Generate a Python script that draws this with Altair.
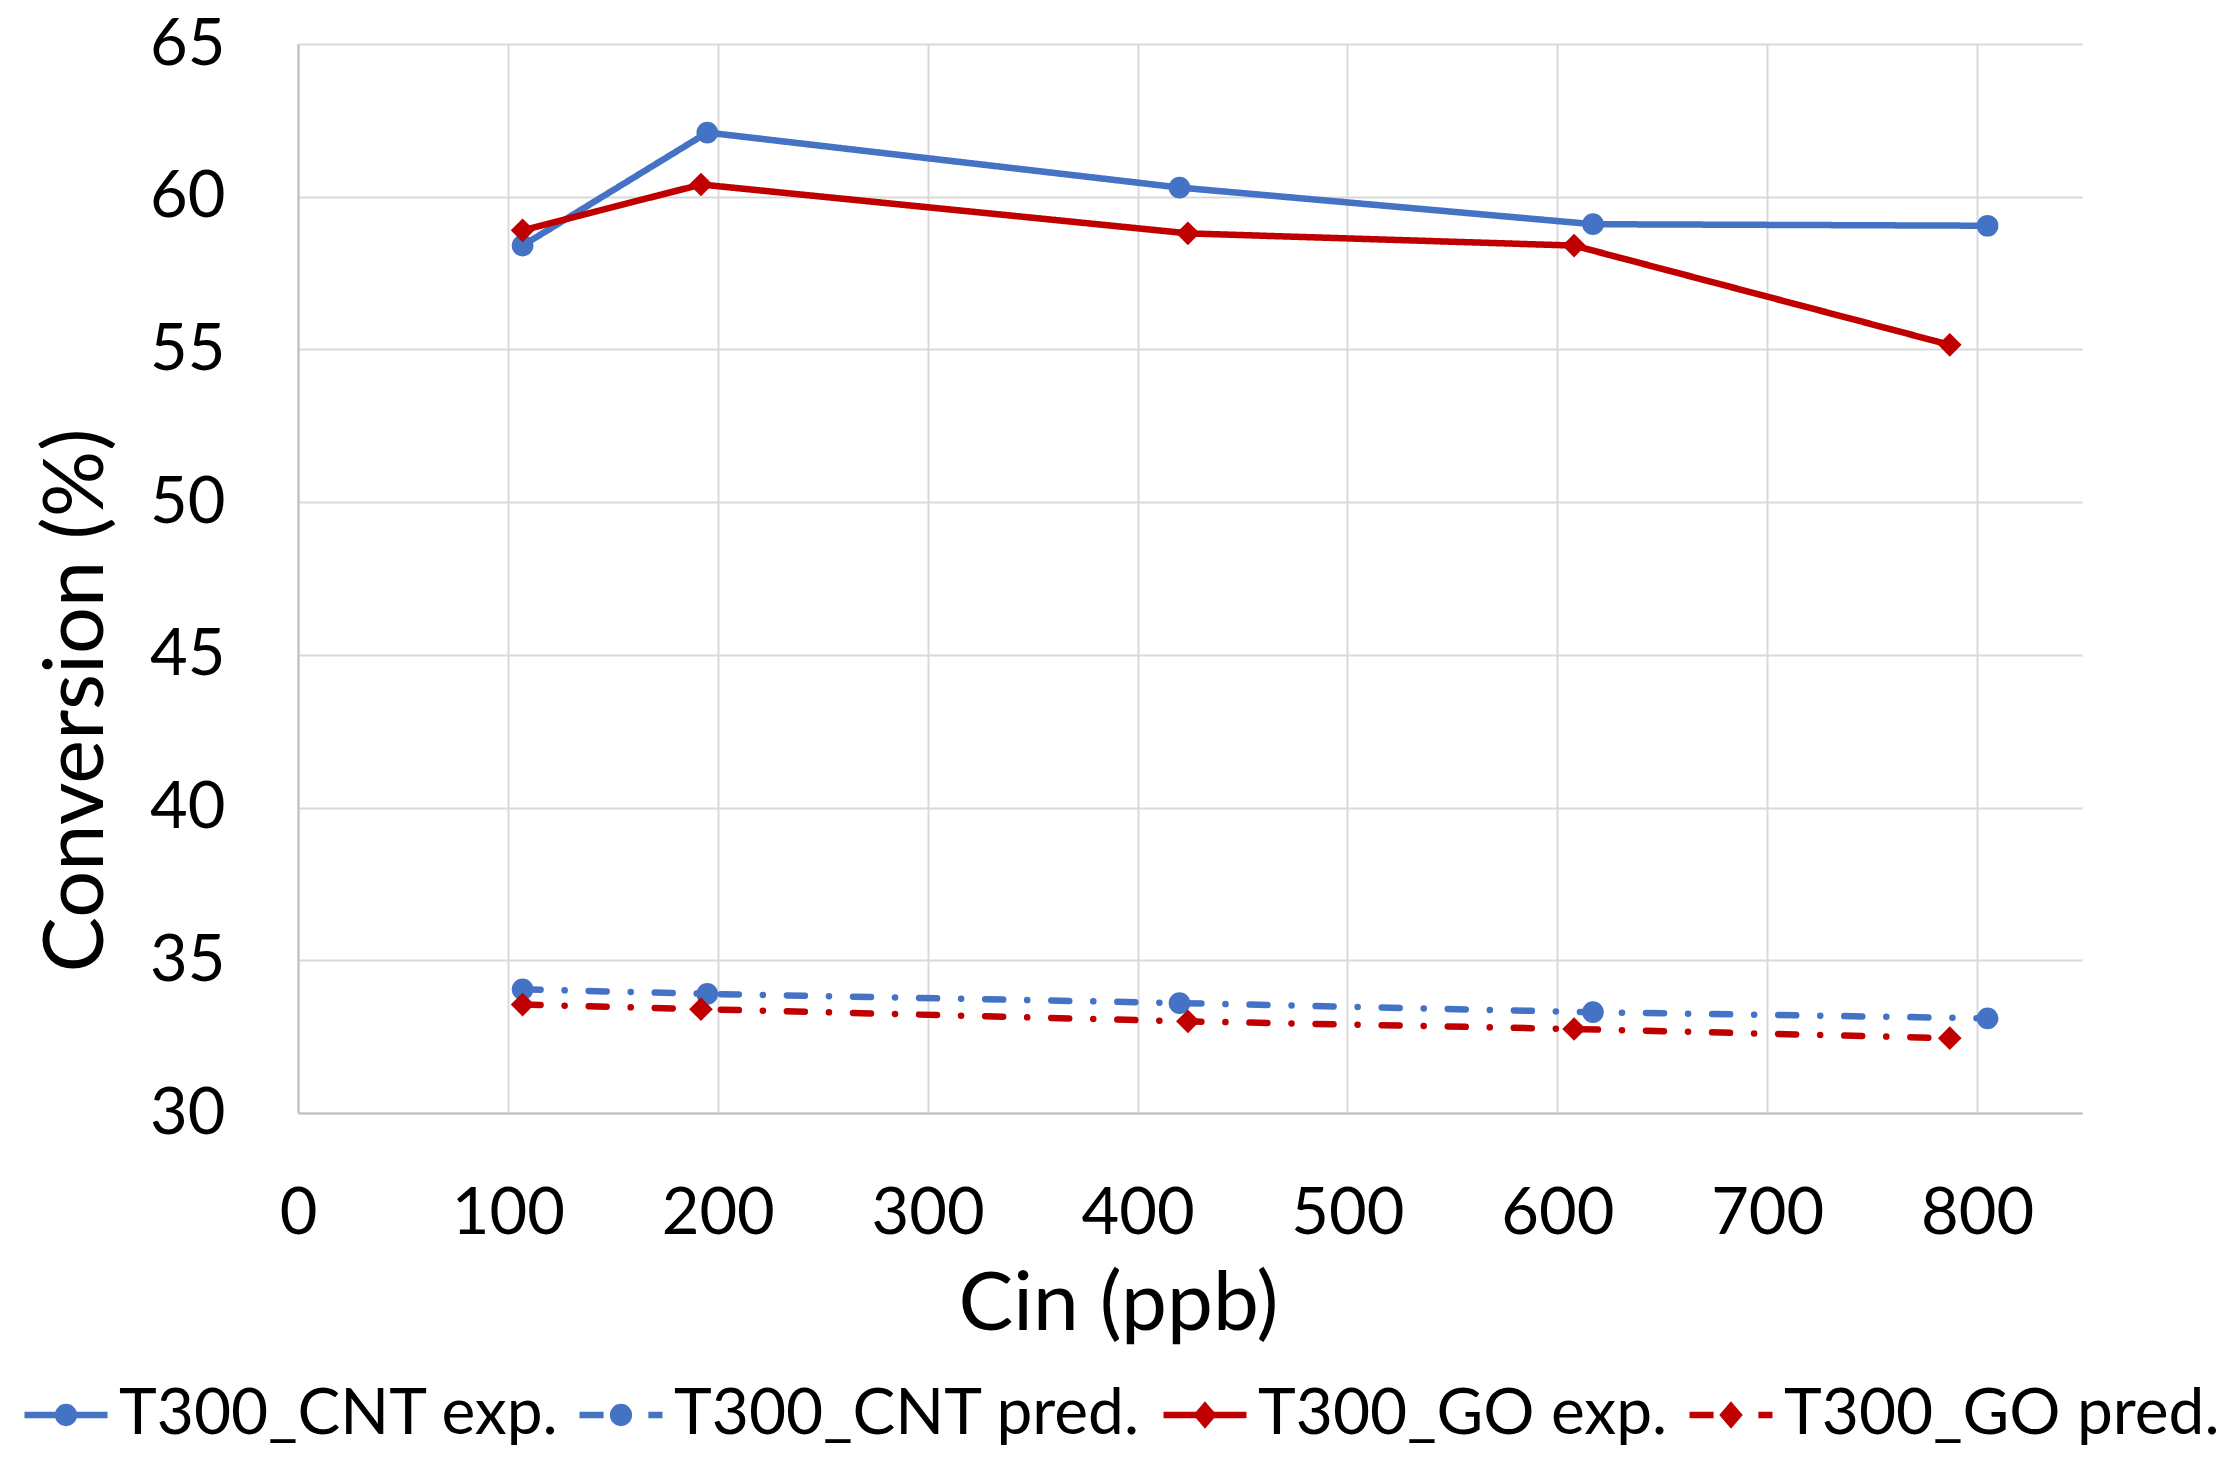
import altair as alt
import pandas as pd

# series
SERIES = ["T300_CNT exp.", "T300_CNT pred.", "T300_GO exp.", "T300_GO pred."]
COLORS = ["#4472C4", "#4472C4", "#C00000", "#C00000"]
MARKERS = ["circle", "circle", "diamond", "diamond"]

cnt_cin = [107, 195, 420, 617, 805]
go_cin = [107, 192, 424, 608, 787]
cnt_exp = [58.4, 62.1, 60.3, 59.1, 59.05]
cnt_pred = [34.05, 33.9, 33.6, 33.3, 33.1]
go_exp = [58.9, 60.4, 58.8, 58.4, 55.15]
go_pred = [33.55, 33.4, 33.0, 32.75, 32.45]

x_ticks = [0, 100, 200, 300, 400, 500, 600, 700, 800]
y_ticks = [30, 35, 40, 45, 50, 55, 60, 65]

FONT = "Lato"
LINE_W = 6.5

rows = []
for name, kind, xs, ys in [
    (SERIES[0], "exp", cnt_cin, cnt_exp),
    (SERIES[1], "pred", cnt_cin, cnt_pred),
    (SERIES[2], "exp", go_cin, go_exp),
    (SERIES[3], "pred", go_cin, go_pred),
]:
    for xv, yv in zip(xs, ys):
        rows.append({"series": name, "kind": kind, "cin": xv, "conv": yv})
df = pd.DataFrame(rows)

# legend symbols: line + marker as custom paths in [-1, 1]
CIRCLE = "M-0.19,0A0.19,0.19,0,1,0,0.19,0A0.19,0.19,0,1,0,-0.19,0Z"
DIAMOND = "M0,-0.21L0.18,0L0,0.21L-0.18,0Z"
SOLID = "M-1,0L1,0"
BROKEN = "M-1,0L-0.42,0M0.66,0L1,0"
SYMBOLS = [SOLID + CIRCLE, BROKEN + CIRCLE, SOLID + DIAMOND, BROKEN + DIAMOND]
LEGEND_X = [-277, 278, 862, 1388]

x_enc = alt.X(
    "cin:Q",
    title="Cin (ppb)",
    scale=alt.Scale(domain=[0, 850], nice=False),
    axis=alt.Axis(
        values=x_ticks, labelFont=FONT, labelFontSize=65, labelColor="black",
        labelPadding=69, labelBaseline="top", labelFlush=False, labelOverlap=False,
        ticks=False, tickSize=0, domain=True, domainColor="#BFBFBF", domainWidth=2,
        grid=True, gridColor="#D9D9D9", gridWidth=2,
        titleFont=FONT, titleFontSize=82, titleFontWeight="normal", titleColor="black",
        titleX=820, titleY=216, titleBaseline="alphabetic", titleAlign="center",
    ),
)
y_enc = alt.Y(
    "conv:Q",
    title="Conversion (%)",
    scale=alt.Scale(domain=[30, 65], nice=False, zero=False),
    axis=alt.Axis(
        values=y_ticks, labelFont=FONT, labelFontSize=65, labelColor="black",
        labelPadding=73, labelBaseline="middle", labelFlush=False, labelOverlap=False,
        ticks=False, tickSize=0, domain=True, domainColor="#BFBFBF", domainWidth=2,
        grid=True, gridColor="#D9D9D9", gridWidth=2,
        titleFont=FONT, titleFontSize=83, titleFontWeight="normal", titleColor="black",
        titleAngle=270, titleX=-196, titleY=656, titleBaseline="alphabetic", titleAlign="center",
    ),
)

lines = (
    alt.Chart(df)
    .mark_line(strokeWidth=LINE_W, strokeCap="round", strokeJoin="round")
    .encode(
        x=x_enc,
        y=y_enc,
        stroke=alt.Stroke("series:N", scale=alt.Scale(domain=SERIES, range=COLORS), legend=None),
        strokeDash=alt.StrokeDash(
            "kind:N",
            scale=alt.Scale(domain=["exp", "pred"], range=[[1, 0], [18, 24, 0.1, 24]]),
            legend=None,
        ),
    )
)


def marker_layer(i):
    name = SERIES[i]
    return (
        alt.Chart(df[df["series"] == name])
        .mark_point(
            filled=True, opacity=1, shape=MARKERS[i], strokeWidth=LINE_W,
            size=470 if MARKERS[i] == "circle" else 560,
        )
        .encode(
            x="cin:Q",
            y="conv:Q",
            color=alt.Color(
                "series:N",
                scale=alt.Scale(domain=[name], range=[COLORS[i]]),
                legend=alt.Legend(
                    orient="none", legendX=LEGEND_X[i], legendY=1326, direction="horizontal",
                    title=None, padding=0, labelFont=FONT, labelFontSize=64, labelColor="black",
                    labelLimit=1000, labelOffset=8,
                    symbolType=SYMBOLS[i], symbolSize=83 * 83,
                    symbolFillColor=COLORS[i], symbolStrokeColor=COLORS[i],
                    symbolStrokeWidth=LINE_W, symbolOpacity=1,
                ),
            ),
        )
    )


chart = (
    alt.layer(lines, *[marker_layer(i) for i in range(4)])
    .resolve_scale(color="independent")
    .resolve_legend(color="independent")
    .properties(
        width=1784,
        height=1069,
        autosize=alt.AutoSizeParams(type="none"),
        padding={"left": 290, "top": 36, "right": 143, "bottom": 340},
        background="white",
    )
    .configure_view(stroke=None)
    .configure_legend(symbolStrokeWidth=LINE_W)
)

chart.save("out.html", embed_options={"renderer": "svg", "actions": False})
